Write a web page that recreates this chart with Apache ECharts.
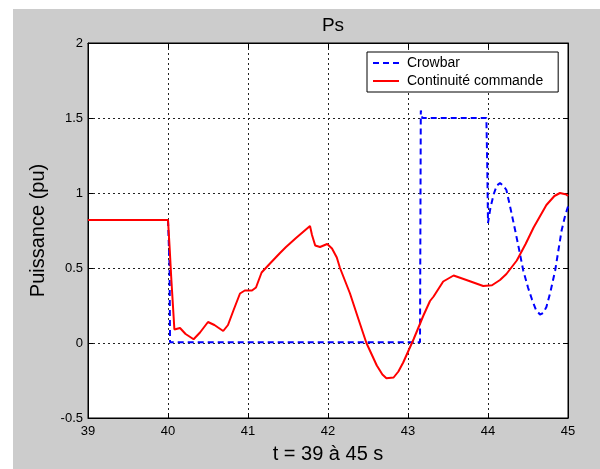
<!DOCTYPE html>
<html>
<head>
<meta charset="utf-8">
<script src="https://cdn.jsdelivr.net/npm/echarts@6/dist/echarts.min.js"></script>
<style>html,body{margin:0;padding:0;background:#fff}#c{width:600px;height:469px}</style>
</head>
<body>
<div id="c"></div>
<script>
var xTicks = [39, 40, 41, 42, 43, 44, 45];
var yTicks = [-0.5, 0, 0.5, 1, 1.5, 2];
var seriesNames = ['Crowbar', 'Continuité commande'];

var crowbarX = [39, 40.0, 40.02, 40.025, 43.15, 43.16, 43.18, 43.98, 43.99, 44.0, 44.03, 44.07, 44.11, 44.15, 44.19, 44.23, 44.28, 44.34, 44.39, 44.44, 44.5, 44.55, 44.6, 44.65, 44.69, 44.73, 44.78, 44.84, 44.92, 44.96, 45];
var crowbarY = [0.82, 0.82, 0.5, 0.005, 0.005, 1.55, 1.5, 1.5, 1.2, 0.8, 0.9, 0.99, 1.05, 1.066, 1.05, 1.02, 0.9, 0.75, 0.62, 0.485, 0.37, 0.29, 0.22, 0.19, 0.2, 0.24, 0.34, 0.485, 0.75, 0.84, 0.91];

var contX = [39, 40.0, 40.02, 40.04, 40.08, 40.1, 40.15, 40.22, 40.32, 40.4, 40.5, 40.58, 40.69, 40.75, 40.82, 40.9, 40.96, 41.05, 41.1, 41.17, 41.275, 41.4, 41.475, 41.6, 41.775, 41.8, 41.84, 41.9, 41.99, 42.05, 42.11, 42.15, 42.275, 42.38, 42.48, 42.61, 42.68, 42.73, 42.82, 42.88, 42.94, 43.07, 43.19, 43.275, 43.32, 43.44, 43.57, 43.73, 43.94, 44.05, 44.15, 44.23, 44.36, 44.47, 44.57, 44.73, 44.83, 44.9, 44.98, 45];
var contY = [0.82, 0.82, 0.64, 0.44, 0.09, 0.1, 0.1, 0.06, 0.025, 0.07, 0.14, 0.12, 0.08, 0.12, 0.22, 0.33, 0.35, 0.35, 0.37, 0.47, 0.53, 0.6, 0.64, 0.7, 0.78, 0.72, 0.65, 0.64, 0.66, 0.63, 0.57, 0.5, 0.33, 0.16, 0.0, -0.15, -0.21, -0.235, -0.23, -0.19, -0.13, 0.025, 0.18, 0.28, 0.31, 0.41, 0.45, 0.42, 0.38, 0.385, 0.42, 0.46, 0.55, 0.66, 0.77, 0.92, 0.98, 1.0, 0.99, 0.98];

function pairs(xs, ys) { return xs.map(function (x, i) { return [x, ys[i]]; }); }

var FONT = 'Liberation Sans';
var chart = echarts.init(document.getElementById('c'), null, {renderer: 'canvas'});
var gridLine = {show: true, lineStyle: {color: '#222', type: [2, 3], width: 1}};
var tickIn = {show: true, inside: true, length: 5, lineStyle: {color: '#000'}};
var axLine = {show: true, onZero: false, lineStyle: {color: '#000', width: 1}};

chart.setOption({
  backgroundColor: '#fff',
  animation: false,
  graphic: [
    {type: 'rect', shape: {x: 13, y: 9, width: 600, height: 470}, style: {fill: '#cccccc'}, z: -10, silent: true}
  ],
  title: {
    text: 'Ps', left: 328, top: 11, textAlign: 'center',
    textStyle: {fontFamily: FONT, fontSize: 19, fontWeight: 'normal', color: '#000'}
  },
  legend: {
    data: [
      {name: seriesNames[0], icon: 'path://M0,0h6v2h-6z M10,0h6v2h-6z M20,0h6v2h-6z'},
      {name: seriesNames[1], icon: 'path://M0,0h26v2h-26z'}
    ],
    orient: 'vertical', left: 367, top: 52,
    backgroundColor: '#fff', borderColor: '#000', borderWidth: 1, borderRadius: 0,
    padding: [4, 15, 4, 6], itemGap: 4, itemWidth: 26, itemHeight: 2,
    textStyle: {fontFamily: FONT, fontSize: 14, lineHeight: 14, color: '#000', padding: [0, 0, 0, 3]}
  },
  grid: {left: 88, top: 43, width: 480, height: 381, show: true, backgroundColor: '#fff', borderColor: '#000', borderWidth: 1},
  xAxis: [{
    type: 'value', min: xTicks[0], max: xTicks[xTicks.length - 1], interval: 1,
    name: 't = 39 à 45 s', nameLocation: 'middle', nameGap: 26,
    nameTextStyle: {fontFamily: FONT, fontSize: 20, color: '#000'},
    axisLine: axLine, axisTick: tickIn, splitLine: gridLine,
    axisLabel: {fontFamily: FONT, fontSize: 13, color: '#000', margin: 7}
  }, {
    type: 'value', position: 'top', min: xTicks[0], max: xTicks[xTicks.length - 1], interval: 1,
    axisLine: axLine, axisTick: tickIn, splitLine: {show: false}, axisLabel: {show: false}
  }],
  yAxis: [{
    type: 'value', min: yTicks[0], max: yTicks[yTicks.length - 1], interval: 0.5,
    name: 'Puissance (pu)', nameLocation: 'middle', nameGap: 40,
    nameTextStyle: {fontFamily: FONT, fontSize: 20, color: '#000'},
    axisLine: axLine, axisTick: tickIn, splitLine: gridLine,
    axisLabel: {fontFamily: FONT, fontSize: 13, color: '#000', margin: 5}
  }, {
    type: 'value', position: 'right', min: yTicks[0], max: yTicks[yTicks.length - 1], interval: 0.5,
    axisLine: axLine, axisTick: tickIn, splitLine: {show: false}, axisLabel: {show: false}
  }],
  series: [{
    name: seriesNames[0], type: 'line', data: pairs(crowbarX, crowbarY),
    symbol: 'none', lineStyle: {color: '#0000ff', width: 2, type: [6, 4]}, itemStyle: {color: '#0000ff'}, z: 2
  }, {
    name: seriesNames[1], type: 'line', data: pairs(contX, contY),
    symbol: 'none', lineStyle: {color: '#ff0000', width: 2}, itemStyle: {color: '#ff0000'}, z: 3
  }]
});
</script>
</body>
</html>
